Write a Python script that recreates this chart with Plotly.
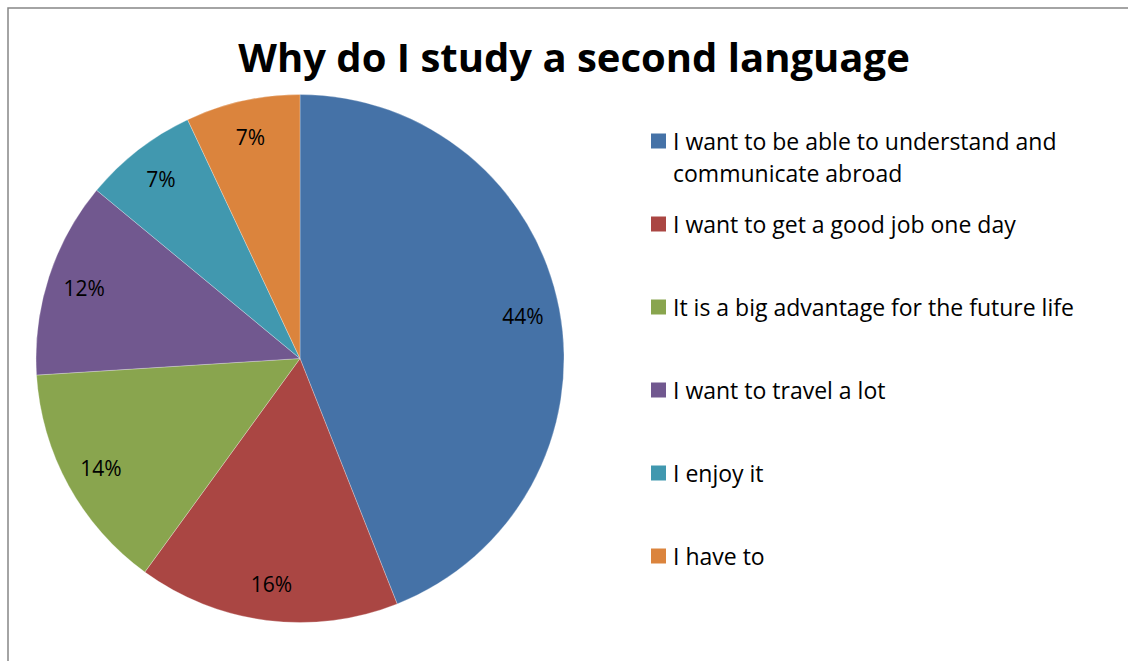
import plotly.graph_objects as go

# Survey answers: why students study a second language
reasons = [
    "I want to be able to understand and<br>communicate abroad",
    "I want to get a good job one day",
    "It is a big advantage for the future life",
    "I want to travel a lot",
    "I enjoy it",
    "I have to",
]
shares = [44, 16, 14, 12, 7, 7]
colors = ["#4572A7", "#AA4643", "#89A54E", "#71588F", "#4198AF", "#DB843D"]

W, H = 1128, 661
FONT = "Open Sans"

# pie placement (pixels): centre and radius
cx, cy, r = 300, 358.5, 264
domain = dict(x=[(cx - r) / W, (cx + r) / W], y=[1 - (cy + r) / H, 1 - (cy - r) / H])

fig = go.Figure()

# coloured slices
fig.add_trace(go.Pie(
    labels=[t.replace("<br>", " ") for t in reasons],
    values=shares,
    sort=False,
    direction="clockwise",
    rotation=0,
    domain=domain,
    marker=dict(colors=colors, line=dict(color="rgba(255,255,255,0.45)", width=0.6)),
    textinfo="none",
    hoverinfo="label+percent",
    showlegend=False,
))

# percentage labels, placed in the outer ring of the pie
fig.add_trace(go.Pie(
    labels=[t.replace("<br>", " ") for t in reasons],
    values=shares,
    sort=False,
    direction="clockwise",
    rotation=0,
    hole=0.72,
    domain=domain,
    marker=dict(colors=["rgba(0,0,0,0)"] * len(shares), line=dict(width=0)),
    textinfo="percent",
    textposition="inside",
    textfont=dict(family=FONT, size=21, color="#000000"),
    showlegend=False,
    hoverinfo="skip",
))

# legend on the right: a colour square and the answer text per slice
LEG_TOP, LEG_STEP, LINE_STEP = 141, 83, 32
SQ_X0, SQ_SIZE, TEXT_X = 651, 15, 671
shapes = []
annotations = []
for i, (txt, col) in enumerate(zip(reasons, colors)):
    y = LEG_TOP + i * LEG_STEP
    shapes.append(dict(
        type="rect", xref="paper", yref="paper",
        x0=SQ_X0 / W, x1=(SQ_X0 + SQ_SIZE) / W,
        y0=1 - (y + SQ_SIZE / 2) / H, y1=1 - (y - SQ_SIZE / 2) / H,
        fillcolor=col, line=dict(width=0),
    ))
    for j, line in enumerate(txt.split("<br>")):
        annotations.append(dict(
            text=line, xref="paper", yref="paper",
            x=TEXT_X / W, y=1 - (y + j * LINE_STEP) / H,
            xanchor="left", yanchor="middle", showarrow=False,
            font=dict(family=FONT, size=23, color="#000000"),
        ))

# chart-area frame (right and bottom sides fall outside the page)
shapes.append(dict(
    type="rect", xref="paper", yref="paper",
    x0=8 / W, x1=(W + 4) / W, y0=-4 / H, y1=1 - 8 / H,
    line=dict(color="#868686", width=1.5), fillcolor="rgba(0,0,0,0)",
    layer="above",
))

fig.update_layout(
    width=W,
    height=H,
    margin=dict(l=0, r=0, t=0, b=0),
    paper_bgcolor="white",
    plot_bgcolor="white",
    font=dict(family=FONT, color="#000000"),
    title=dict(
        text="<b>Why do I study a second language</b>",
        font=dict(family=FONT, size=40, color="#000000"),
        x=574 / W,
        xanchor="center",
        y=1 - 58 / H,
        yanchor="middle",
    ),
    shapes=shapes,
    annotations=annotations,
)

fig.write_html("out.html", config={"displayModeBar": False})
